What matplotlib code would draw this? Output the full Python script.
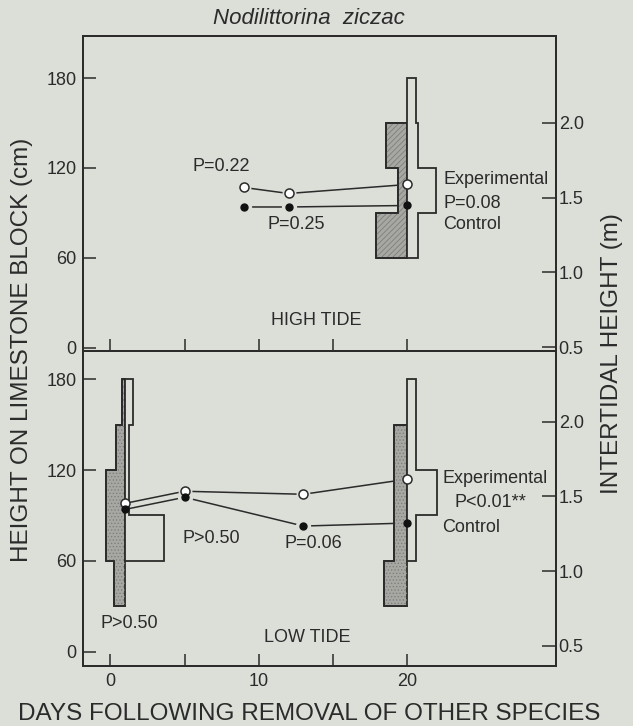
import matplotlib
matplotlib.use('Agg')
import matplotlib.pyplot as plt

plt.rcParams['font.family'] = ['Liberation Sans', 'DejaVu Sans']
plt.rcParams['hatch.linewidth'] = 0.6

BG = '#dcded8'
INK = '#2b2b2b'

# ---------------- data ----------------
hi_days = [9, 12, 20]
hi_exp = [107, 103, 109]
hi_ctl = [94, 94, 95]

lo_days = [1, 5, 13, 20]
lo_exp = [98, 106, 104, 114]
lo_ctl = [94, 102, 83, 85]

# vertical distributions (% of snails in 30-cm bands), bands 30-60 ... 150-180
band_edges = [30, 60, 90, 120, 150, 180]
hi_dist_day = 20
hi_dist_ctl = [0, 51, 15, 34, 0]
hi_dist_exp = [0, 17, 46, 17, 13]
lo_dist_days = [1, 20]
lo_dist_ctl = [[18, 31, 31, 15, 5], [37, 21, 21, 21, 0]]
lo_dist_exp = [[0, 62, 7, 7, 13], [0, 14, 48, 14, 14]]

left_ticks = [0, 60, 120, 180]
right_ticks = [0.5, 1.0, 1.5, 2.0]
x_ticks = [0, 5, 10, 15, 20]
x_ticklabels = ['0', '', '10', '', '20']

KITE_SCALE = 0.042  # days of x-axis per percent

fig = plt.figure(figsize=(6.33, 7.26), dpi=100, facecolor=BG)

L, W = 0.1319, 0.7464
ax1 = fig.add_axes([L, 0.5172, W, 0.4332])
ax2 = fig.add_axes([L, 0.0826, W, 0.4346])


def kite(ax, xc, vals, side, shaded, hatch):
    vals = list(vals)
    edges = list(band_edges)
    # trim empty end bands
    while vals and vals[0] == 0:
        vals.pop(0); edges.pop(0)
    while vals and vals[-1] == 0:
        vals.pop(); edges.pop()
    xs = [xc]
    ys = [edges[0]]
    for lo, hi, v in zip(edges[:-1], edges[1:], vals):
        x = xc + side * v * KITE_SCALE
        xs += [x, x]
        ys += [lo, hi]
    xs.append(xc)
    ys.append(edges[-1])
    if shaded:
        ax.fill(xs, ys, facecolor='#a7a8a3', edgecolor=INK, lw=1.3, zorder=3)
        ax.fill(xs, ys, facecolor='none', edgecolor='#7e7f7b', hatch=hatch, lw=0, zorder=3)
        ax.plot(xs, ys, color=INK, lw=1.3, zorder=3)
    else:
        ax.fill(xs, ys, facecolor=BG, edgecolor=INK, lw=1.3, zorder=3)


def series(ax, days, exp, ctl, kite_days):
    ax.plot(days, exp, color=INK, lw=1.1, zorder=2)
    ax.plot(days, ctl, color=INK, lw=1.1, zorder=2)
    hd = [d for d in days if d not in kite_days]
    he = [e for d, e in zip(days, exp) if d not in kite_days]
    hc = [c for d, c in zip(days, ctl) if d not in kite_days]
    ax.plot(hd, he, 'o', ms=9, color=BG, ls='none', zorder=4)
    ax.plot(hd, hc, 'o', ms=10, color=BG, ls='none', zorder=4)
    ax.plot(days, exp, 'o', ms=6.5, mfc='white', mec=INK, mew=1.1, ls='none', zorder=5)
    ax.plot(days, ctl, 'o', ms=5, mfc='#111111', mec='#111111', ls='none', zorder=6)


# high tide panel
kite(ax1, hi_dist_day, hi_dist_ctl, -1, True, '//////')
kite(ax1, hi_dist_day, hi_dist_exp, +1, False, None)
series(ax1, hi_days, hi_exp, hi_ctl, [hi_dist_day])

# low tide panel
for d, c, e in zip(lo_dist_days, lo_dist_ctl, lo_dist_exp):
    kite(ax2, d, c, -1, True, '.....')
    kite(ax2, d, e, +1, False, None)
series(ax2, lo_days, lo_exp, lo_ctl, lo_dist_days)

FS = 13
tkw = dict(fontsize=FS, color=INK, zorder=7)
ax1.text(7.5, 121, 'P=0.22', ha='center', va='center', **tkw)
ax1.text(12.5, 82, 'P=0.25', ha='center', va='center', **tkw)
ax1.text(22.4, 112, 'Experimental', ha='left', va='center', **tkw)
ax1.text(22.45, 96.6, 'P=0.08', ha='left', va='center', **tkw)
ax1.text(22.4, 82, 'Control', ha='left', va='center', **tkw)
ax1.text(13.85, 18, 'HIGH TIDE', ha='center', va='center', **tkw)

ax2.text(22.35, 114.6, 'Experimental', ha='left', va='center', **tkw)
ax2.text(23.2, 98.5, 'P<0.01**', ha='left', va='center', **tkw)
ax2.text(22.35, 82, 'Control', ha='left', va='center', **tkw)
ax2.text(6.8, 75, 'P>0.50', ha='center', va='center', **tkw)
ax2.text(13.7, 71.6, 'P=0.06', ha='center', va='center', **tkw)
ax2.text(1.3, 18.3, 'P>0.50', ha='center', va='center', **tkw)
ax2.text(13.25, 9.5, 'LOW TIDE', ha='center', va='center', **tkw)

for ax, ylim, rlim in [(ax1, (-1.7, 208), (0.477, 2.58)), (ax2, (-9.5, 199), (0.366, 2.476))]:
    ax.set_facecolor(BG)
    ax.set_xlim(-1.8, 30)
    ax.set_ylim(*ylim)
    ax.set_xticks(x_ticks)
    ax.set_yticks(left_ticks)
    ax.set_yticklabels([str(t) for t in left_ticks])
    ax.tick_params(axis='y', direction='in', length=9, width=1.1, labelsize=FS,
                   pad=5, colors=INK)
    ax.tick_params(axis='x', direction='in', length=9, width=1.1, labelsize=FS,
                   pad=5, colors=INK)
    for s in ax.spines.values():
        s.set_color(INK)
        s.set_linewidth(1.3)
    rax = ax.twinx()
    rax.set_ylim(*rlim)
    rax.set_yticks(right_ticks)
    rax.set_yticklabels([f'{t:.1f}' for t in right_ticks])
    rax.tick_params(axis='y', direction='in', length=10, width=1.1, labelsize=FS,
                    pad=2, colors=INK)
    for s in rax.spines.values():
        s.set_color(INK)
        s.set_linewidth(1.3)

ax1.set_xticklabels(['' for _ in x_ticks])
ax2.set_xticklabels(x_ticklabels)

fig.text(0.488, 0.975, 'Nodilittorina  ziczac', ha='center', va='center',
         fontsize=16, style='italic', color=INK)
fig.text(0.035, 0.518, 'HEIGHT ON LIMESTONE BLOCK (cm)', rotation=90,
         ha='center', va='center', fontsize=17.5, color=INK)
fig.text(0.967, 0.513, 'INTERTIDAL HEIGHT (m)', rotation=90,
         ha='center', va='center', fontsize=17.5, color=INK)
fig.text(0.488, 0.0165, 'DAYS FOLLOWING REMOVAL OF OTHER SPECIES',
         ha='center', va='center', fontsize=17.5, color=INK)

fig.savefig('out.png', dpi=100, facecolor=BG)
